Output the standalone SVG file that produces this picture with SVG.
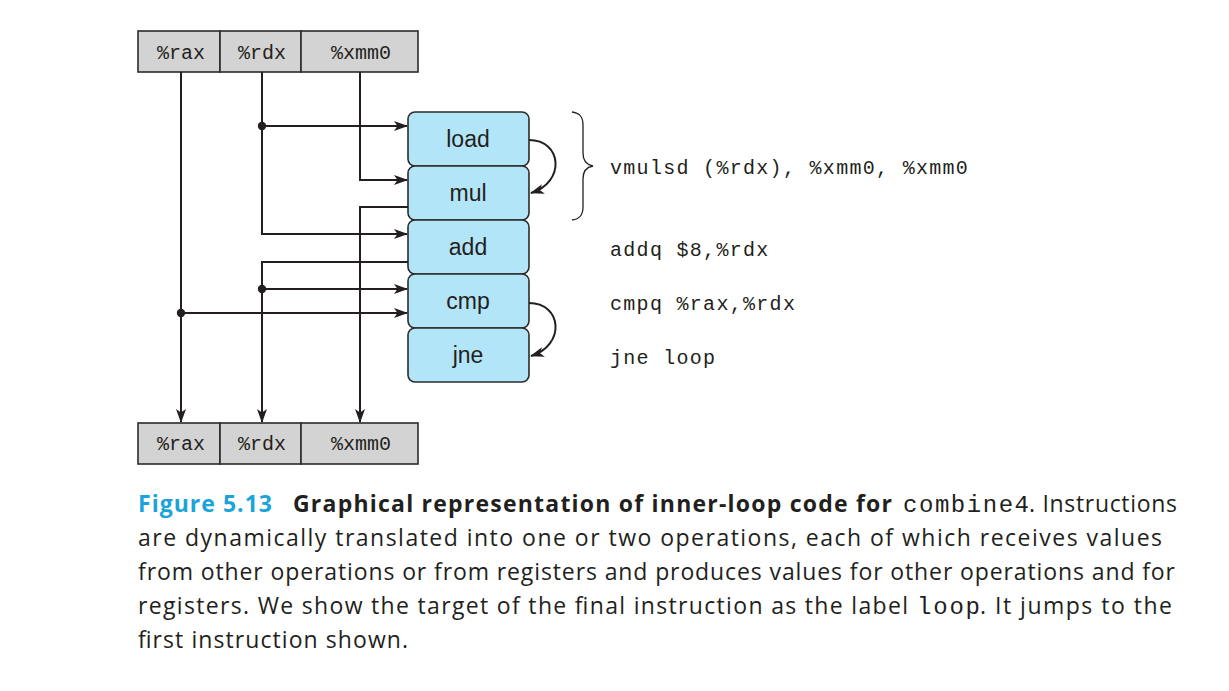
<svg xmlns="http://www.w3.org/2000/svg" width="1229" height="691" viewBox="0 0 1229 691">
<style>
.reg{fill:#d3d3d3;stroke:#2b2b2b;stroke-width:1.6}
.op{fill:#b3e5f8;stroke:#2b2b2b;stroke-width:1.6}
.mono{font-family:"Liberation Mono","DejaVu Sans Mono",monospace;fill:#231f20}
.rt{font-size:20px;text-anchor:middle}
.code{font-size:20px;letter-spacing:1.3px}
.lbl{font-family:"Liberation Sans",Arial,sans-serif;font-size:23px;text-anchor:middle;fill:#231f20}
.wire{fill:none;stroke:#231f20;stroke-width:2}
.dot{fill:#231f20}
.cap{font-family:"Open Sans","Noto Sans",sans-serif;font-size:23px;fill:#231f20}
.b{font-weight:bold}
.blue{fill:#1ba3dc}
.cm{font-family:"Liberation Mono",monospace;font-size:24px}
</style>
<defs>
<marker id="ah" viewBox="0 0 14 10" refX="13" refY="5" markerWidth="14" markerHeight="10" markerUnits="userSpaceOnUse" orient="auto">
<path d="M0,0 L14,5 L0,10 L3.5,5 z" fill="#231f20"/>
</marker>
</defs>
<rect width="1229" height="691" fill="#ffffff"/>

<g id="regs-top">
<rect class="reg" x="138" y="31" width="82" height="41"/>
<rect class="reg" x="220" y="31" width="81" height="41"/>
<rect class="reg" x="301" y="31" width="117" height="41"/>
<text class="mono rt" x="181" y="59">%rax</text>
<text class="mono rt" x="262" y="59">%rdx</text>
<text class="mono rt" x="361" y="59">%xmm0</text>
</g>

<g id="regs-bottom">
<rect class="reg" x="138" y="423" width="82" height="41"/>
<rect class="reg" x="220" y="423" width="81" height="41"/>
<rect class="reg" x="301" y="423" width="117" height="41"/>
<text class="mono rt" x="181" y="450">%rax</text>
<text class="mono rt" x="262" y="450">%rdx</text>
<text class="mono rt" x="361" y="450">%xmm0</text>
</g>

<g id="op-load"><rect class="op" x="408" y="112" width="121" height="54" rx="7"/><text class="lbl" x="468" y="147">load</text></g>
<g id="op-mul"><rect class="op" x="408" y="166" width="121" height="54" rx="7"/><text class="lbl" x="468" y="201">mul</text></g>
<g id="op-add"><rect class="op" x="408" y="220" width="121" height="54" rx="7"/><text class="lbl" x="468" y="255">add</text></g>
<g id="op-cmp"><rect class="op" x="408" y="274" width="121" height="54" rx="7"/><text class="lbl" x="468" y="309">cmp</text></g>
<g id="op-jne"><rect class="op" x="408" y="328" width="121" height="54" rx="7"/><text class="lbl" x="468" y="363">jne</text></g>

<g id="connectors">
<path class="wire" d="M181,72 V422" marker-end="url(#ah)"/>
<path class="wire" d="M181,313 H407" marker-end="url(#ah)"/>
<path class="wire" d="M262,72 V234 H407" marker-end="url(#ah)"/>
<path class="wire" d="M262,126 H407" marker-end="url(#ah)"/>
<path class="wire" d="M408,262 H262 V422" marker-end="url(#ah)"/>
<path class="wire" d="M262,289 H407" marker-end="url(#ah)"/>
<path class="wire" d="M360,72 V180 H407" marker-end="url(#ah)"/>
<path class="wire" d="M408,207 H360 V422" marker-end="url(#ah)"/>
<path class="wire" d="M529,140 C562,140 566,182 531,193" marker-end="url(#ah)"/>
<path class="wire" d="M529,303 C562,303 566,345 531,356" marker-end="url(#ah)"/>
<circle class="dot" cx="262" cy="126" r="4.2"/>
<circle class="dot" cx="262" cy="289" r="4.2"/>
<circle class="dot" cx="181" cy="313" r="4.2"/>
</g>

<g id="code">
<path d="M572,112 C580,113 583,117 583,125 V153 C583,161 587,165 593,166 C587,167 583,171 583,179 V207 C583,215 580,219 572,220" fill="none" stroke="#231f20" stroke-width="1.3"/>
<text class="mono code" x="610" y="174">vmulsd (%rdx), %xmm0, %xmm0</text>
<text class="mono code" x="610" y="256">addq $8,%rdx</text>
<text class="mono code" x="610" y="310">cmpq %rax,%rdx</text>
<text class="mono code" x="610" y="364">jne loop</text>
</g>

<g id="caption">
<text class="cap b blue" x="138" y="512" textLength="134">Figure 5.13</text>
<text class="cap b" x="293" y="512" textLength="599">Graphical representation of inner-loop code for</text>
<text class="cap cm" x="903" y="512" textLength="126">combine4</text>
<text class="cap" x="1029" y="512" textLength="148">. Instructions</text>
<text class="cap" x="138" y="546" textLength="1024">are dynamically translated into one or two operations, each of which receives values</text>
<text class="cap" x="138" y="580" textLength="1037">from other operations or from registers and produces values for other operations and for</text>
<text class="cap" x="138" y="614" textLength="770">registers. We show the target of the final instruction as the label</text>
<text class="cap cm" x="917" y="614" textLength="63">loop</text>
<text class="cap" x="980" y="614" textLength="192">. It jumps to the</text>
<text class="cap" x="138" y="648" textLength="270">first instruction shown.</text>
</g>
</svg>
